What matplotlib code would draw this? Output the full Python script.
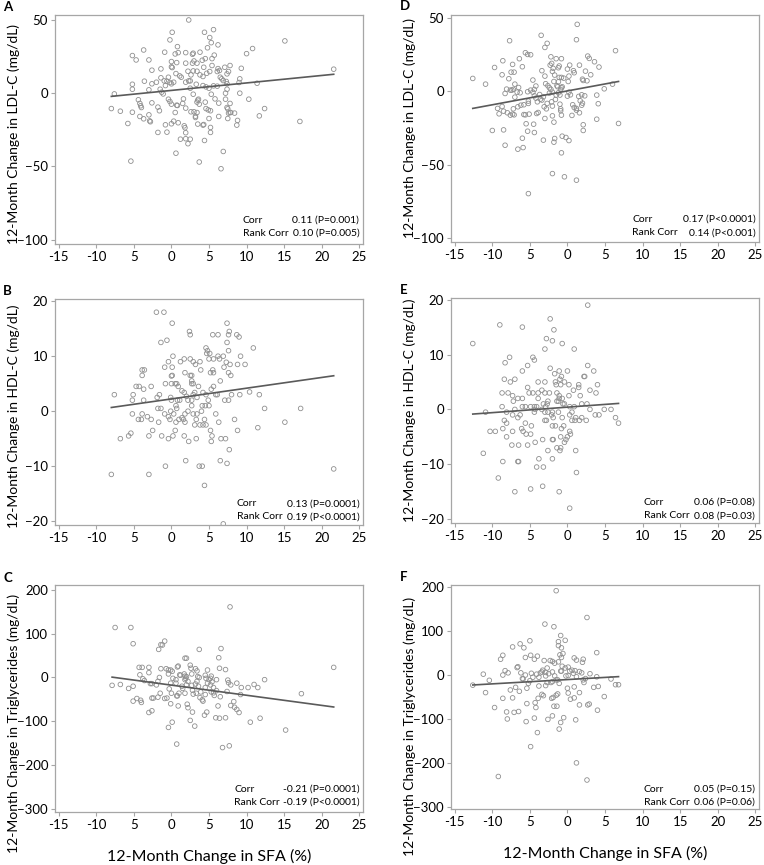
import numpy as np
import matplotlib
matplotlib.use('Agg')
import matplotlib.pyplot as plt

plt.rcParams['font.family'] = ['Lato', 'DejaVu Sans']

# 讀圖估計的散點 (x = 12-Month Change in SFA, y = 對應指標變化)
pts_a = [(2.3,50),(4.4,41.6),(0.1,41.6),(5.6,43.4),(5.1,38),(-0.2,36.4),(-3.7,29.5),(0.8,31.8),(4.8,31),(5.3,34.5),
         (6.2,33),(15.1,35.7),(10.8,30.5),(10,27),(-5.2,25.7),(-4.7,22.7),(-3.0,22.7),(-0.9,28),(0.5,26.8),(0.9,27.7),
         (2.8,26.6),(2.9,27.3),(1.9,27.7),(3.8,28),(5.7,26),(0,21.6),(0,18),(0.1,17.5),(-1.4,16.6),(-2.6,15.7),
         (0.7,20.9),(1.9,20.5),(2.8,20.5),(3.0,22),(3.4,20.5),(4.1,22.5),(4.5,23.6),(5.4,23.6),(4.3,17.7),(5.4,18.9),
         (6.2,16.8),(6.1,14.8),(7.1,17.7),(7.8,18.9),(9.3,17),(7.6,14.8),(7.4,13.2),(6.4,15.5),(2.2,15),(2.9,15.2),
         (3.4,15),(2.6,12.5),(3.8,12.5),(4.2,11.4),(4.7,13.6),(5.1,14.8),(0.6,13.4),(1.1,11.8),(1.3,10.9),(-0.4,10.9),
         (-0.96,8.4),(-0.2,7.3),(0,6.4),(0.3,7.5),(1.9,7.5),(2.3,8.4),(2.5,8.4),(2.5,3.4),(3.3,6.1),(4.2,5.2),
         (4.6,4.3),(5.0,3.4),(5.6,5),(6.1,4.8),(6.5,10.9),(6.7,9.8),(6.9,8.6),(7.3,8),(7.4,6.4),(7.4,2.7),
         (7.2,0),(9.1,9.8),(9.0,7.3),(9.1,0),(11.4,6.8),(10.3,-4.1),(12.4,-10.5),(11.7,-15.5),(17.1,-19.3),(21.6,16.4),
         (-5.2,6.1),(-5.2,2.7),(-3.6,8.2),(-2.6,6.4),(-3.0,2.3),(-1.5,2.7),(-1.3,0.7),(-1.1,-0.5),(-0.6,8.2),(-0.8,5.2),
         (-2.0,7.5),(-1.4,10.5),(-7.6,-0.5),(-8.0,-10.5),(-6.8,-12.3),(-5.2,-13),(-5.8,-20.7),(-5.4,-46.4),(-4.4,-4.5),(-4.2,-7),
         (-4.1,-8.6),(-4.0,-9.8),(-4.2,-15.9),(-3.7,-17.5),(-3.0,-14.8),(-2.8,-19.5),(-2.9,-18.9),(-2.6,-6.6),(-1.8,-9.5),(-1.6,-12),
         (-1.8,-26.8),(-0.8,-21.6),(-0.6,-26.6),(-0.4,-4.1),(-0.2,-5.7),(0,-7.5),(0,-20.9),(0.3,-19.1),(0.5,-13.2),(0.7,-8.2),
         (0.8,-8.4),(0.9,-20.2),(0.6,-41),(1.2,-31.4),(1.5,-7),(1.6,-3.9),(1.9,-10.2),(1.7,-22.3),(1.8,-23.6),(1.9,-27),
         (1.9,-31.1),(2.2,-34.5),(2.5,-31.4),(2.6,-12.7),(2.9,-0.7),(3.0,-12.7),(3.2,-15.7),(3.2,-16.6),(3.4,-13.2),(3.4,-6.1),
         (3.5,-4.8),(3.6,-4.1),(3.7,-7.5),(3.5,-21.1),(3.7,-47),(4.2,-21.8),(4.3,-21.4),(4.4,-32.3),(4.5,-6.1),(4.6,-10.5),
         (4.9,-11.4),(5.0,-17.3),(5.2,-23.4),(5.2,-26.8),(5.3,-0.7),(5.2,-12),(5.8,-3.9),(6.3,-6.8),(6.3,-15.9),(6.6,-51.6),
         (6.9,-39.8),(7.2,-4.1),(7.4,-9.8),(7.5,-10.7),(7.6,-13.6),(7.8,-7),(7.8,-13.2),(7.5,-17.3),(7.9,-13.2),(8.4,-13.6),
         (8.8,-18.6),(8.7,-21.8)]

pts_b = [(-2.0,18),(-1.0,18),(0.1,16),(-1.4,12.5),(-0.6,12.9),(2.4,14.5),(2.5,13.9),(5.5,13.9),(6.2,13.9),(7.4,16),
         (7.7,14.5),(7.6,13.9),(8.7,13.9),(9.0,13.5),(7.4,12.5),(4.6,11.5),(4.8,11),(5.1,10.5),(4.7,10.5),(7.6,11),
         (10.9,11.5),(0.2,10),(6.2,10),(6.4,9.5),(6.9,10),(9.2,10),(1.2,9),(1.7,9.5),(2.5,9.5),(2.9,9),
         (3.2,8.5),(3.8,9),(5.6,9.5),(5.0,9.5),(-0.4,9),(-0.9,8),(0.1,8),(3.9,7.5),(5.5,7.5),(5.2,7),
         (7.0,8),(7.3,8.9),(7.8,8.5),(8.8,8.5),(9.8,8.5),(-3.9,7.5),(-3.9,6.5),(-3.6,7.5),(0.1,6.5),(0,6.4),
         (1.8,7),(2.5,6.5),(2.7,6.5),(5.6,7),(7.6,7),(7.9,6.5),(2.7,5.5),(2.7,5),(2.9,5),(3.6,4.5),
         (6.5,5.5),(0,5),(0.5,5),(0.7,5),(0.9,4.5),(-0.8,5),(-4.7,4.5),(-4.3,4.5),(-3.7,4),(-2.7,4.5),
         (-3.7,2),(-5.1,3),(-5.2,2),(-7.6,3),(-1.9,2.5),(-1.6,3),(-1.8,0.5),(-1.4,0.5),(-0.1,2.5),(0,2),
         (0.8,2),(1.4,3.7),(1.7,3.4),(1.1,2),(2.0,2.7),(2.2,2),(2.7,2),(2.9,3),(3.1,3.4),(3.4,2.5),
         (4.2,3.4),(4.6,3),(4.9,2),(5.3,4),(5.6,4.5),(5.9,3),(6.1,3),(7.1,2),(7.6,2),(8.0,3),
         (9.1,3),(10.4,3.5),(11.7,3),(12.4,0.5),(17.2,0.5),(15.1,-2),(11.5,-3),(21.6,-10.5),(-8.0,-11.5),(-3.0,-11.5),
         (-0.8,-10),(0.2,-4.5),(-0.4,-5),(2.3,-5.5),(1.9,-9),(3.7,-10),(4.1,-10),(4.4,-13.5),(6.5,-9),(7.4,-9.5),
         (7.7,-7),(6.9,-20.5),(-5.2,-0.5),(-6.8,-5),(-5.7,-4.5),(-5.4,-4),(-4.4,-1.5),(-4.0,-1.5),(-3.9,-0.5),(-3.2,-1),
         (-3.0,-4.5),(-2.7,-1.5),(-2.5,-3.5),(-1.7,-2),(-1.3,-4.5),(-0.9,-0.5),(-0.4,-1),(-0.2,-1.5),(-0.1,0),(0.3,-0.5),
         (0.5,-3.5),(0.6,-2),(0.7,0.5),(0.6,1),(1.0,-1.5),(1.4,-1.2),(1.6,-1.5),(1.8,-0.5),(1.8,-2),(1.7,-4.5),
         (2.2,0),(2.7,1),(2.9,-0.5),(3.1,-2.5),(3.3,-1.5),(3.4,-0.5),(3.8,-2.5),(4.0,0),(4.1,1),(4.5,1),
         (4.2,-2.5),(4.4,-1.5),(4.6,-2.5),(5.0,1),(5.2,-3.5),(5.3,-5.5),(5.4,-4.5),(5.9,-0.5),(6.3,-2),(6.6,-5),
         (7.2,-5),(8.4,-1.5),(8.8,-3.5),(3.3,-5)]

pts_c = [(-7.5,114),(-5.4,114),(-5.1,77),(-1.4,75),(-0.9,83),(-1.7,64),(-1.2,74),(3.7,64),(6.6,66),(6.3,45),
         (7.8,161),(1.8,44),(2.0,44),(6.4,21),(7.2,18),(4.8,17),(2.5,28),(2.6,21),(3.2,20),(3.4,15),
         (0.9,26),(0.8,24),(-4.3,23),(-3.9,23),(-3.0,23),(-3.0,11),(-1.4,20),(-0.7,20),(-0.4,17),(-0.1,17),
         (0.1,14),(-0.4,8),(0.2,-2),(0.6,-5),(-1.6,0),(-1.8,-9),(-2.0,-17),(-4.2,6),(-3.8,-3),(-3.6,-7),
         (-2.8,-14),(-2.6,-14),(-5.7,-25),(-6.8,-16),(-7.9,-18),(-5.1,-20),(-5.1,-54),(-4.6,-48),(-4.1,-52),(-4.0,-57),
         (-2.6,-47),(-2.4,-47),(-3.0,-80),(-2.6,-76),(-1.8,-45),(-0.9,-48),(-0.6,-47),(-1.5,-36),(-0.4,-114),(0.1,-102),
         (0.7,-152),(-0.1,-60),(0.9,-65),(0.8,-42),(1.0,-36),(1.4,-20),(1.5,-25),(1.8,-5),(1.7,8),(1.8,3),
         (2.0,2),(2.2,-9),(2.0,-17),(1.8,-36),(2.1,-61),(2.2,-69),(2.5,-98),(2.8,-79),(3.1,-111),(2.7,-18),
         (2.8,-29),(2.9,-38),(3.2,-15),(3.4,-9),(3.6,-20),(3.5,2),(3.7,0),(3.3,-36),(3.9,-33),(4.1,-51),
         (4.2,-54),(4.5,5),(4.6,-2),(4.8,-13),(4.5,-23),(4.5,-39),(4.4,-86),(4.7,-79),(5.0,-5),(5.2,-2),
         (5.2,-17),(5.4,-10),(5.6,-23),(5.3,-33),(5.7,-41),(6.0,-30),(6.2,-65),(5.9,-92),(6.4,-93),(6.5,-44),
         (6.8,-160),(7.2,-92),(7.7,-156),(7.5,-6),(7.6,-12),(7.9,-17),(7.4,-32),(7.9,-64),(8.3,-55),(8.4,-68),
         (8.7,-13),(8.7,-73),(9.0,-80),(9.2,-39),(9.3,-23),(10.2,-23),(10.5,-102),(11.0,-16),(11.5,-23),(11.8,-93),
         (12.4,-5),(15.2,-120),(17.3,-37),(21.6,23),(1.1,6),(1.2,5),(0.6,-13),(-0.1,-13),(-0.3,-26),(0,-36),
         (0.7,-42),(5.6,-35),(2.7,8),(1.9,-2),(5.3,3),(6.0,-5),(3.8,-46)]

pts_d = [(-12.6,8.9),(-10.9,5),(-9.7,16.4),(-8.6,21),(-8.7,11.4),(-7.8,8.7),(-7.7,34.7),(-7.3,18.5),(-7.5,13.2),(-7.1,13.2),
         (-7.0,5),(-6.4,22.4),(-6.0,16.9),(-5.6,26.5),(-5.3,25.3),(-4.9,25.1),(-3.5,38.4),(-3.0,30.1),(-2.7,32.9),(-3.4,14.2),
         (-3.0,10.5),(-2.2,23.7),(-2.3,18),(-2.1,19.2),(-2.0,13.7),(-1.9,15.8),(-1.5,22.4),(-0.8,22.4),(-1.1,17.4),(-1.2,16.2),
         (-1.2,6.6),(-1.1,9.6),(-1.7,11.2),(-1.8,6.8),(-1.4,3.9),(-0.8,9.6),(-0.5,9.1),(0.3,18),(0,15.3),(0.2,10.5),
         (0.1,6.8),(0.8,14.2),(0.9,12.8),(1.3,45.9),(1.2,35.4),(1.6,18),(2.0,8.4),(2.1,7.5),(2.6,7.3),(2.4,13.9),
         (2.7,24.2),(2.9,22.6),(3.1,11.4),(3.6,20.3),(4.2,16.7),(3.9,-2.5),(4.1,-8.4),(3.9,-19),(4.9,1.8),(6.0,5),
         (6.4,27.9),(6.8,-21.9),(-10.0,-26.7),(-9.3,-11.6),(-9.1,-15.3),(-8.7,-10.3),(-8.5,-13.5),(-8.5,-26.3),(-8.3,-36.8),(-8.3,-1.4),
         (-8.1,1.6),(-7.6,0.9),(-8.0,-14.6),(-7.6,-16.2),(-7.3,-15.5),(-7.1,-16),(-7.2,-11.9),(-7.4,0.9),(-7.2,1.4),(-6.7,-0.5),
         (-6.3,-0.9),(-6.5,2.7),(-7.0,-3.9),(-6.6,-10.5),(-6.2,-9.4),(-5.8,-9.1),(-5.8,-15.8),(-5.6,-16),(-5.1,-15.5),(-6.6,-39.5),
         (-5.9,-38.4),(-6.0,-32),(-5.5,-22.1),(-5.2,-69.9),(-5.3,-27.2),(-5.2,-8.2),(-5.2,-6.6),(-5.3,-0.2),(-4.9,0.9),(-4.6,-0.5),
         (-4.4,1.4),(-4.2,3.7),(-4.6,7.8),(-4.4,-3),(-4.2,-4.6),(-4.0,-7.1),(-3.7,-2.1),(-3.6,-5.3),(-3.4,-5.9),(-3.2,-3.7),
         (-4.5,-22.4),(-4.4,-28.1),(-4.1,-15.1),(-3.9,-14.4),(-3.2,-33.3),(-3.1,-10.5),(-3.0,-18.5),(-2.8,-11.9),(-2.7,-8.2),(-2.9,5.3),
         (-2.6,3.9),(-2.4,2.5),(-2.2,1.4),(-2.0,-0.5),(-2.4,-1.1),(-2.1,-7.1),(-2.0,-10),(-2.0,-16.7),(-1.8,-21),(-2.0,-56.2),
         (-1.7,-32.2),(-1.8,-34.7),(-1.6,-5.5),(-1.5,-2.5),(-1.3,3.2),(-1.2,-0.9),(-1.0,-2.5),(-0.9,1.4),(-0.8,2.5),(-0.7,3.2),
         (-1.0,-8.7),(-0.9,-11.9),(-0.9,-13.2),(-0.8,-16.2),(-0.8,-42),(-0.7,-30.6),(-0.4,-58.4),(-0.2,-31.5),(0.2,-33.6),(0,-3.2),
         (0.2,-0.5),(0.4,-2.3),(0.6,-16.4),(0.7,-9.1),(0.9,-11),(1.2,-12.8),(1.2,-11.6),(1.5,-3.4),(1.6,-14.6),(1.7,-6.4),
         (1.9,-9.4),(2.0,-8),(1.9,-2.3),(2.3,-3),(2.1,-22.8),(2.1,-26.7),(1.2,-60.7)]

pts_e = [(-12.6,12),(-9.0,15.4),(-6.0,15),(-2.3,16.5),(-1.8,14.5),(-2.8,12.9),(-2.0,12.5),(-3.0,11),(-0.7,12),(0.9,11),
         (2.7,19),(-7.7,9.5),(-8.3,8.5),(-4.6,9.5),(-4.4,9),(-5.3,8),(-6.0,7),(-2.3,7.5),(-1.1,7),(0,7),
         (2.7,8),(3.5,7),(4.0,4.5),(3.8,3),(-1.7,6.5),(-0.8,6),(-1.0,5.5),(-1.6,5),(2.2,6),(2.3,6),
         (-8.4,5.5),(-7.0,5.5),(-7.6,5),(-3.9,5),(-3.0,5),(-1.5,4.5),(-0.9,4.5),(-0.4,5),(0.2,4.5),(1.5,4.5),
         (1.5,4),(-8.7,3),(-7.9,3),(-7.3,2.5),(-5.3,4),(-5.1,3),(-3.9,3),(-3.0,3),(-4.6,3),(-3.4,3.5),
         (-2.4,3),(-1.4,3),(-1.1,2.5),(0.2,2.5),(0.8,3.5),(1.7,2.5),(3.0,3.5),(-6.6,2),(-6.0,2),(-7.2,1.5),
         (-3.9,2),(-2.6,1.5),(-1.1,2),(-1.2,1.5),(-0.7,2),(-8.7,0.5),(-6.0,0.5),(-5.6,0.5),(-4.9,0.5),(-4.4,0.5),
         (-4.1,0.5),(-3.2,1),(-2.9,0.5),(-2.7,1),(-1.4,1.5),(-0.6,1),(-0.4,1),(0.3,0.5),(0.9,0.5),(1.9,1),
         (2.6,1),(3.0,0),(4.9,0),(5.8,0),(6.4,-1.5),(6.8,-2.5),(-10.9,-0.5),(-8.1,-0.5),(-7.3,-1),(-7.0,0),
         (-6.6,-1.5),(-6.3,-1),(-4.4,-0.5),(-4.3,0),(-3.4,0),(-3.0,-0.5),(-2.6,-0.5),(-2.1,-1),(-2.0,-0.5),(-1.9,-1.5),
         (-1.2,-0.5),(-0.7,-1.5),(0.3,-1),(0.6,-0.5),(1.1,-1.5),(1.6,-2),(1.9,-1.5),(2.5,-2),(3.7,-1),(4.2,-1),
         (-10.3,-4),(-9.6,-4),(-8.6,-3.5),(-8.4,-2),(-8.1,-2.5),(-7.3,-4),(-8.1,-5),(-7.4,-6.5),(-6.5,-6.5),(-6.1,-3.5),
         (-5.9,-4),(-5.6,-2.5),(-5.5,-4.5),(-5.3,-6.5),(-4.9,-4.5),(-4.8,-3),(-4.3,-6),(-3.3,-5.5),(-3.0,-2),(-2.8,-2),
         (-2.0,-3),(-1.6,-3),(-2.0,-5.5),(-1.9,-5.5),(-2.6,-7.5),(-2.0,-9),(-1.4,-7),(-1.0,-7.5),(-0.9,-7),(-0.9,-5),
         (-0.8,-3.5),(-0.5,-3),(-0.4,-6),(-0.2,-5.5),(0.0,-5),(0.3,-4),(0.4,-4.5),(1.0,-2),(0.6,-2),(1.1,-7.5),
         (1.2,-11.5),(-11.2,-8),(-8.6,-9.5),(-6.6,-9.5),(-6.5,-9.5),(-9.2,-12.5),(-7.0,-15),(-4.9,-14.5),(-3.8,-9),(-4.1,-10.5),
         (-3.2,-10.5),(-3.3,-14),(-1.1,-15),(0.3,-18)]

pts_f = [(-1.5,192),(2.6,131),(-3.0,116),(-1.8,110),(-0.9,90),(-0.3,79),(-1.2,76),(-1.2,67),(-0.8,62),(-1.0,46),
         (-0.8,40),(-0.6,49),(-5.0,78),(-6.3,71),(-5.8,62),(-7.3,64),(-8.6,45),(-8.9,36),(-4.9,45),(-5.6,40),
         (-4.0,43),(-4.4,36),(-3.1,33),(-2.7,16),(-3.3,11),(-2.3,33),(-2.0,31),(-1.7,27),(-1.2,30),(-0.7,20),
         (-0.9,9),(-0.3,16),(0.1,18),(0.6,11),(1.0,10),(0.9,39),(1.2,34),(2.1,36),(2.0,29),(3.9,51),
         (-8.3,10),(-8.6,0),(-7.9,5),(-6.7,17),(-6.6,19),(-6.2,5),(-5.9,-9),(-6.0,-8),(-5.6,0),(-4.8,4),
         (-4.1,2),(-3.8,-5),(-3.6,5),(-3.4,7),(-2.9,6),(-2.9,-2),(-2.5,3),(-2.0,7),(-1.7,-2),(-1.5,-11),
         (-2.0,-15),(-1.3,-11),(-0.8,9),(-0.2,-2),(0.1,-1),(0.3,9),(0.8,4),(1.2,-4),(1.6,8),(1.9,5),
         (2.1,-11),(2.2,-17),(2.4,-8),(3.0,3),(3.5,-28),(3.9,-4),(4.1,-26),(4.0,-80),(4.9,-49),(5.8,-9),
         (6.4,-22),(6.8,-22),(-12.6,-23),(-11.2,2),(-10.4,-12),(-10.9,-40),(-9.7,-74),(-8.6,-53),(-8.1,-84),(-8.0,-100),
         (-7.6,-34),(-7.3,-52),(-7.1,-85),(-6.9,-28),(-6.5,-83),(-6.4,-37),(-5.4,-30),(-5.4,-65),(-5.5,-106),(-5.2,-19),
         (-4.9,-163),(-4.4,-98),(-4.3,-63),(-4.2,-74),(-4.0,-131),(-3.9,-53),(-3.8,-25),(-3.4,-44),(-3.2,-47),(-2.9,-24),
         (-2.7,-17),(-2.6,-101),(-2.2,-17),(-2.1,-53),(-2.0,-93),(-1.9,-51),(-1.8,-71),(-1.5,-46),(-1.3,-43),(-1.1,-19),
         (-1.4,-71),(-1.1,-123),(-0.9,-108),(-0.5,-97),(0,-30),(0.1,-41),(0.4,-55),(0.9,-52),(0.9,-27),(1.1,-102),
         (1.2,-200),(1.6,-40),(1.6,-68),(2.7,-68),(2.9,-66),(2.6,-239),(-9.2,-231),(-5.0,-13),(-4.6,-5)]

# 迴歸線 (截距, 斜率), 讀圖估計
fits = {'A': (1.9, 0.51), 'B': (2.23, 0.195), 'C': (-17.5, -2.31),
        'D': (0.37, 0.95), 'E': (0.41, 0.10), 'F': (-10.3, 0.98)}

corr_text = {'A': ('0.11 (P=0.001)', '0.10 (P=0.005)'),
             'B': ('0.13 (P=0.0001)', '0.19 (P<0.0001)'),
             'C': ('-0.21 (P=0.0001)', '-0.19 (P<0.0001)'),
             'D': ('0.17 (P<0.0001)', '0.14 (P<0.001)'),
             'E': ('0.06 (P=0.08)', '0.08 (P=0.03)'),
             'F': ('0.05 (P=0.15)', '0.06 (P=0.06)')}

ylabels = {'A': '12-Month Change in LDL-C (mg/dL)', 'D': '12-Month Change in LDL-C (mg/dL)',
           'B': '12-Month Change in HDL-C (mg/dL)', 'E': '12-Month Change in HDL-C (mg/dL)',
           'C': '12-Month Change in Triglycerides (mg/dL)', 'F': '12-Month Change in Triglycerides (mg/dL)'}

xticks = [-15, -10, -5, 0, 5, 10, 15, 20, 25]
xtick_labels = ['-15', '-10', '5', '0', '5', '10', '15', '20', '25']
yticks = {'A': [-100, -50, 0, 50], 'D': [-100, -50, 0, 50],
          'B': [-20, -10, 0, 10, 20], 'E': [-20, -10, 0, 10, 20],
          'C': [-300, -200, -100, 0, 100, 200], 'F': [-300, -200, -100, 0, 100, 200]}
ylims = {'A': (-103, 53.4), 'D': (-103, 52.3), 'B': (-20.7, 20.4), 'E': (-20.7, 20.3),
         'C': (-307, 211), 'F': (-305, 205)}

points = {'A': pts_a, 'B': pts_b, 'C': pts_c, 'D': pts_d, 'E': pts_e, 'F': pts_f}

# 版面 (像素 -> figure fraction)
W, H = 764, 865
col_left = {'A': 55, 'B': 55, 'C': 55, 'D': 451, 'E': 451, 'F': 451}
row_top = {'A': 15, 'D': 15, 'B': 299, 'E': 298, 'C': 585, 'F': 585}
row_bot = {'A': 244, 'D': 242, 'B': 525, 'E': 523, 'C': 812, 'F': 809}
txt_pos = {'A': (0.609, 0.104, 0.047), 'B': (0.590, 0.093, 0.037),
           'C': (0.582, 0.100, 0.043), 'D': (0.589, 0.100, 0.041),
           'E': (0.625, 0.092, 0.032), 'F': (0.625, 0.089, 0.030)}
ylab_y = {'A': 0.48, 'B': 0.48, 'C': 0.39, 'D': 0.5, 'E': 0.5, 'F': 0.37}

fig = plt.figure(figsize=(W / 100, H / 100), dpi=100)
spine_c = '#a6a6a6'

for key in 'ABCDEF':
    l = col_left[key]
    ax = fig.add_axes([l / W, 1 - row_bot[key] / H, 308 / W, (row_bot[key] - row_top[key]) / H])
    arr = np.array(points[key], dtype=float)
    ax.scatter(arr[:, 0], arr[:, 1], s=11, facecolors='none', edgecolors='#8f8f8f', linewidths=0.6, zorder=2)
    b0, b1 = fits[key]
    xs = np.array([arr[:, 0].min(), arr[:, 0].max()])
    ax.plot(xs, b0 + b1 * xs, color='#5a5a5a', lw=1.2, zorder=3)

    ax.set_xlim(-15.5, 25.5)
    ax.set_ylim(*ylims[key])
    ax.set_xticks(xticks)
    ax.set_xticklabels(xtick_labels)
    ax.set_yticks(yticks[key])
    ax.tick_params(labelsize=9.5, length=3, width=0.8, color=spine_c, pad=2)
    for sp in ax.spines.values():
        sp.set_color(spine_c)
        sp.set_linewidth(0.9)

    ax.set_ylabel(ylabels[key], fontsize=10)
    ax.yaxis.set_label_coords(-0.115, ylab_y[key])
    if key in 'CF':
        ax.set_xlabel('12-Month Change in SFA (%)', fontsize=11.5, labelpad=13)

    lx, y1, y2 = txt_pos[key]
    c1, c2 = corr_text[key]
    ax.text(lx, y1, 'Corr', transform=ax.transAxes, fontsize=7.5, va='center')
    ax.text(0.988, y1, c1, transform=ax.transAxes, fontsize=7.5, va='center', ha='right')
    ax.text(lx, y2, 'Rank Corr', transform=ax.transAxes, fontsize=7.5, va='center')
    ax.text(0.988, y2, c2, transform=ax.transAxes, fontsize=7.5, va='center', ha='right')

    lab_x = 3 if key in 'ABC' else 400
    lab_y = {'A': 1, 'D': 0, 'B': 285, 'E': 284, 'C': 572, 'F': 571}[key]
    fig.text(lab_x / W, 1 - lab_y / H, key, fontsize=9.5, fontweight='bold', va='top', ha='left')

fig.savefig('out.png', dpi=100)
